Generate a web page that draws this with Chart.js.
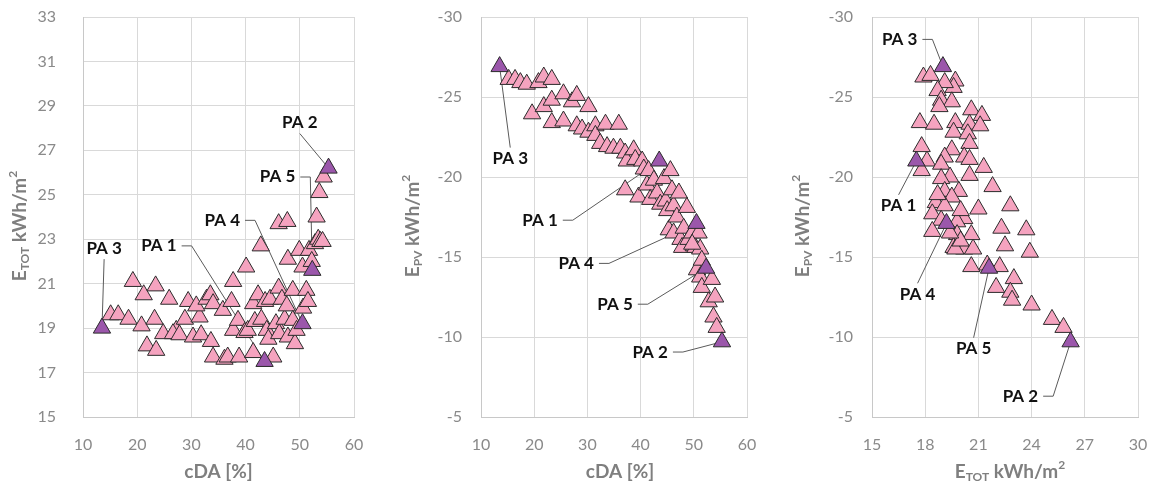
<!DOCTYPE html>
<html>
<head>
<meta charset="utf-8">
<script src="https://cdn.jsdelivr.net/npm/chart.js@4.4.1/dist/chart.umd.min.js"></script>
<style>
  body { margin: 0; background: #fff; width: 1151px; height: 484px; overflow: hidden; position: relative; }
  .box { position: absolute; top: 0; height: 484px; }
</style>
</head>
<body>
<div class="box" style="left:0;width:380px"><canvas id="c1"></canvas></div>
<div class="box" style="left:380px;width:390px"><canvas id="c2"></canvas></div>
<div class="box" style="left:770px;width:381px"><canvas id="c3"></canvas></div>
<script>
// ======= DATA =======
// highlighted alternatives PA 1..5
const paLabels = ["PA 1", "PA 2", "PA 3", "PA 4", "PA 5"];
const paCda  = [43.5, 55.3, 13.5, 50.5, 52.3];
const paEtot = [17.5, 26.2, 19.0, 19.2, 21.6];
const paEpv  = [-21.0, -9.7, -26.9, -17.1, -14.3];

// left chart: cDA vs E_TOT
const leftCda  = [15.1,16.5,18.4,19.2,21.2,20.8,21.8,23.4,23.2,23.5,25.9,24.8,27.2,26.6,27.8,28.8,29.4,30.3,31.5,30.9,31.8,32.8,33.5,34.0,33.6,34.0,35.8,36.1,36.7,37.7,37.4,37.7,38.6,38.8,39.8,40.1,40.4,41.4,41.4,42.3,42.8,41.7,42.9,43.6,43.9,44.2,44.5,45.1,45.6,46.1,46.1,46.2,46.7,47.2,47.7,47.8,47.6,47.8,48.7,48.7,49.1,49.4,49.9,50.5,50.6,51.2,51.5,51.7,52.2,52.8,53.1,53.4,53.8,53.6,54.4,54.2];
const leftEtot = [19.6,19.6,19.4,21.1,20.5,19.1,18.2,20.9,19.4,18.0,20.3,18.75,18.9,18.75,18.7,19.4,20.2,18.6,19.5,20.0,18.7,20.3,20.5,20.1,18.4,17.7,19.8,17.6,17.7,21.1,20.2,18.9,19.35,17.7,18.8,21.75,18.9,17.9,20.1,20.5,22.7,19.3,19.4,20.2,18.9,18.5,20.3,17.7,19.2,23.7,20.8,18.75,20.3,19.4,23.8,22.1,20.0,18.6,19.35,20.7,18.3,18.9,22.5,21.75,19.9,20.7,20.2,22.5,22.0,22.8,24.0,23.0,22.9,25.1,25.8,22.9];

// middle chart: cDA vs E_PV
const midCda = [15.2,16.4,17.4,18.6,19.6,20.8,21.8,21.8,23.3,23.3,23.3,25.5,25.5,27.1,28.0,28.0,29.0,30.2,30.2,31.5,31.5,32.4,33.4,33.7,34.9,35.9,36.2,37.1,37.1,37.4,38.7,39.0,39.6,40.3,40.6,41.2,41.5,41.8,42.5,43.1,43.7,44.4,44.7,45.0,45.3,45.6,45.9,46.2,46.2,46.8,47.2,47.5,47.8,48.1,48.7,49.0,49.7,50.0,50.3,50.9,51.2,51.5,50.6,51.2,51.5,53.4,52.8,54.0,53.7,54.3,49.7,51.5];
const midEpv = [-26.1,-26.1,-25.9,-25.8,-23.95,-25.9,-26.25,-24.4,-26.1,-24.8,-23.4,-25.2,-23.5,-24.7,-25.1,-23.2,-23.0,-24.4,-22.8,-23.2,-22.6,-22.1,-23.3,-21.9,-21.8,-23.3,-21.8,-21.5,-19.2,-21.0,-21.7,-21.1,-18.75,-21.0,-20.5,-19.5,-20.4,-18.6,-19.8,-19.0,-18.3,-19.9,-18.5,-17.9,-16.7,-20.4,-19.2,-18.2,-16.5,-17.5,-19.0,-16.1,-15.6,-16.8,-18.1,-16.1,-16.5,-15.7,-15.6,-16.5,-15.5,-14.4,-14.2,-13.75,-13.1,-13.6,-12.2,-12.5,-11.25,-10.6,-15.8,-14.8];

// right chart: E_TOT vs E_PV
const rightEtot = [17.9,18.3,19.7,19.6,19.1,18.7,18.9,19.5,18.8,20.6,21.2,17.7,18.5,19.7,20.5,21.1,19.6,20.4,20.5,17.8,19.5,19.1,20.2,18.1,17.8,18.9,20.5,21.3,19.4,18.9,19.9,21.8,19.1,19.5,18.6,21.0,22.8,19.1,18.4,20.2,18.9,19.8,22.3,23.7,18.4,19.8,20.6,22.5,19.6,20.2,20.7,23.9,19.7,21.5,20.6,22.2,23.0,22.0,22.8,22.9,24.0,25.15,25.8,20.0,19.4,18.7,20.0,20.5];
const rightEpv  = [-26.25,-26.35,-26.0,-25.6,-25.9,-25.4,-24.8,-24.7,-24.4,-24.2,-23.85,-23.4,-23.3,-23.4,-23.3,-23.2,-22.8,-22.7,-22.1,-21.9,-21.7,-21.25,-21.25,-21.0,-20.4,-20.8,-20.1,-20.6,-20.0,-19.9,-19.1,-19.4,-19.1,-18.75,-18.4,-18.0,-18.2,-18.2,-17.7,-17.4,-17.3,-17.2,-16.8,-16.7,-16.6,-16.4,-16.4,-15.7,-15.6,-15.5,-15.5,-15.3,-15.5,-14.5,-14.4,-14.4,-13.65,-13.1,-12.8,-12.3,-12.0,-11.1,-10.6,-16.0,-16.5,-18.9,-17.9,-21.1];

// ======= STYLE =======
const PINK = "#f5a3bf", PURPLE = "#9b57ab", EDGE = "#2b2b2b";
const GRID = "#d9d9d9", TICK = "#8a8a8a", TITLE = "#7f7f7f";
const FONT = "Lato, 'Open Sans', sans-serif";

function pts(xs, ys){ return xs.map((x, i) => ({x, y: ys[i]})); }

// rich text: [text, size, dy]
function richWidth(ctx, segs){
  let w = 0;
  segs.forEach(s => { ctx.font = "bold " + s[1] + "px " + FONT; w += ctx.measureText(s[0]).width; });
  return w;
}
function drawRich(ctx, segs, cx, cy){
  let x = cx - richWidth(ctx, segs) / 2;
  ctx.textBaseline = "middle"; ctx.textAlign = "left";
  segs.forEach(s => {
    ctx.font = "bold " + s[1] + "px " + FONT;
    ctx.fillText(s[0], x, cy + (s[2] || 0));
    x += ctx.measureText(s[0]).width;
  });
}

const ETOT_T = [["E",19],["TOT",12,5],[" kWh/m",19],["2",12,-7]];
const EPV_T  = [["E",19],["PV",12,5],[" kWh/m",19],["2",12,-7]];
const CDA_T  = [["cDA [%]",19]];

const decor = {
  id: "decor",
  beforeDatasetsDraw(chart, args, o){
    const ctx = chart.ctx, xs = chart.scales.x, ys = chart.scales.y;
    ctx.save();
    ctx.strokeStyle = "#5a5a5a"; ctx.lineWidth = 1;
    ctx.font = "bold 17px " + FONT;
    o.notes.forEach(n => {
      const i = paLabels.indexOf(n.label);
      const px = xs.getPixelForValue(o.px[i]);
      const py = ys.getPixelForValue(o.py[i]);
      const lx = xs.getPixelForValue(n.x), ly = ys.getPixelForValue(n.y);
      const w = ctx.measureText(n.label).width, h = 12;
      ctx.beginPath();
      if(n.side === "right"){ ctx.moveTo(lx + w/2 + 5, ly); ctx.lineTo(lx + w/2 + 15, ly); }
      else if(n.side === "top"){ ctx.moveTo(lx, ly - h/2 - 5); }
      else { ctx.moveTo(lx, ly + h/2 + 5); }
      ctx.lineTo(px, py);
      ctx.stroke();
    });
    ctx.restore();
  },
  afterDraw(chart, args, o){
    const ctx = chart.ctx, a = chart.chartArea, xs = chart.scales.x, ys = chart.scales.y;
    ctx.save();
    ctx.fillStyle = "#111";
    ctx.font = "bold 17px " + FONT;
    ctx.textAlign = "center"; ctx.textBaseline = "middle";
    o.notes.forEach(n => ctx.fillText(n.label, xs.getPixelForValue(n.x), ys.getPixelForValue(n.y)));
    ctx.fillStyle = TITLE;
    drawRich(ctx, o.xTitle, (a.left + a.right) / 2 + o.xShift, 472);
    ctx.translate(o.yTitleX, 226);
    ctx.rotate(-Math.PI / 2);
    drawRich(ctx, o.yTitle, 0, 0);
    ctx.restore();
  }
};

function makeChart(id, cfg){
  new Chart(document.getElementById(id), {
    type: "scatter",
    data: { datasets: [
      { data: pts(cfg.px, cfg.py), pointStyle: "triangle", radius: 10, hoverRadius: 10,
        backgroundColor: PURPLE, borderColor: EDGE, borderWidth: 1 },
      { data: pts(cfg.xs, cfg.ys), pointStyle: "triangle", radius: 10, hoverRadius: 10,
        backgroundColor: PINK, borderColor: EDGE, borderWidth: 1 }
    ]},
    options: {
      responsive: true, maintainAspectRatio: false, animation: false,
      layout: { padding: { top: 17, left: 0, right: cfg.padRight, bottom: 0 } },
      plugins: { legend: { display: false }, tooltip: { enabled: false },
        decor: { notes: cfg.notes, px: cfg.px, py: cfg.py, xTitle: cfg.xTitle, yTitle: cfg.yTitle,
                 yTitleX: cfg.yTitleX, xShift: cfg.xShift } },
      scales: {
        x: { min: cfg.xMin, max: cfg.xMax,
             ticks: { stepSize: cfg.xStep, color: TICK, padding: 18, font: { family: FONT, size: 16 } },
             grid: { color: GRID, drawTicks: false }, border: { color: "#c8c8c8" },
             afterFit: s => { s.height = 67; s.paddingLeft = 0; s.paddingRight = 0; } },
        y: { min: cfg.yMin, max: cfg.yMax, reverse: cfg.reverse,
             ticks: { stepSize: cfg.yStep, color: TICK, padding: cfg.yPad, font: { family: FONT, size: 16 } },
             grid: { color: GRID, drawTicks: false }, border: { color: "#c8c8c8" },
             afterFit: s => { s.width = cfg.yWidth; s.paddingTop = 0; s.paddingBottom = 0; } }
      }
    },
    plugins: [decor]
  });
}

makeChart("c1", {
  xs: leftCda, ys: leftEtot, px: paCda, py: paEtot,
  xMin: 10, xMax: 60, xStep: 10, yMin: 15, yMax: 33, yStep: 2, reverse: false,
  yWidth: 83, yPad: 27, padRight: 26, yTitleX: 20, xShift: 0,
  xTitle: CDA_T, yTitle: ETOT_T,
  notes: [
    { label: "PA 3", x: 13.9, y: 22.6, side: "bottom" },
    { label: "PA 1", x: 24.0, y: 22.7, side: "right" },
    { label: "PA 4", x: 35.7, y: 23.85, side: "right" },
    { label: "PA 5", x: 45.9, y: 25.8, side: "right" },
    { label: "PA 2", x: 50.0, y: 28.25, side: "bottom" }
  ]
});

makeChart("c2", {
  xs: midCda, ys: midEpv, px: paCda, py: paEpv,
  xMin: 10, xMax: 60, xStep: 10, yMin: -30, yMax: -5, yStep: 5, reverse: true,
  yWidth: 101, yPad: 19, padRight: 23, yTitleX: 33, xShift: 6,
  xTitle: CDA_T, yTitle: EPV_T,
  notes: [
    { label: "PA 3", x: 15.5, y: -21.15, side: "top" },
    { label: "PA 1", x: 21.1, y: -17.3, side: "right" },
    { label: "PA 4", x: 27.9, y: -14.6, side: "right" },
    { label: "PA 5", x: 35.2, y: -12.05, side: "right" },
    { label: "PA 2", x: 41.8, y: -9.06, side: "right" }
  ]
});

makeChart("c3", {
  xs: rightEtot, ys: rightEpv, px: paEtot, py: paEpv,
  xMin: 15, xMax: 30, xStep: 3, yMin: -30, yMax: -5, yStep: 5, reverse: true,
  yWidth: 102, yPad: 19, padRight: 13, yTitleX: 33, xShift: 5,
  xTitle: ETOT_T, yTitle: EPV_T,
  notes: [
    { label: "PA 3", x: 16.56, y: -28.6, side: "right" },
    { label: "PA 1", x: 16.5, y: -18.2, side: "top" },
    { label: "PA 4", x: 17.57, y: -12.67, side: "top" },
    { label: "PA 5", x: 20.73, y: -9.27, side: "top" },
    { label: "PA 2", x: 23.37, y: -6.3, side: "right" }
  ]
});
</script>
</body>
</html>
